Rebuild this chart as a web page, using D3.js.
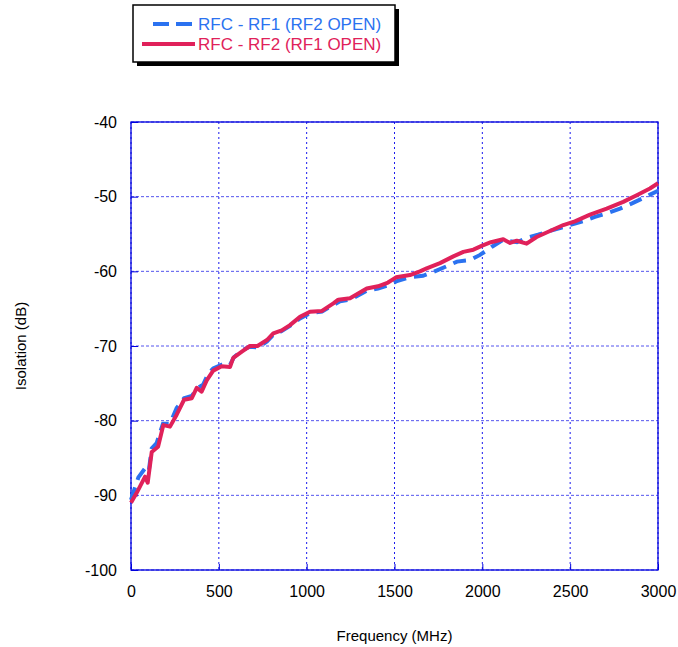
<!DOCTYPE html>
<html lang="en">
<head>
<meta charset="UTF-8">
<title>Isolation vs Frequency</title>
<style>
  body { margin: 0; background: #fff; }
  svg { display: block; font-family: "Liberation Sans", Arial, sans-serif; }
</style>
</head>
<body>
<div id="chart"></div>
<script src="https://d3js.org/d3.v7.min.js"></script>
<script>
// RFC - RF1 (RF2 OPEN), dashed blue
const rf1Freq = [0, 42, 89, 102, 118, 146, 182, 222, 260, 302, 346, 381, 410, 440, 468, 516, 564, 586, 638, 677, 723, 774, 810, 858, 905, 962, 1019, 1087, 1152, 1190, 1247, 1342, 1406, 1474, 1514, 1588, 1662, 1719, 1799, 1856, 1930, 1987, 2055, 2118, 2197, 2254, 2317, 2368, 2442, 2527, 2584, 2641, 2715, 2784, 2852, 2915, 3000];
const rf1Iso = [-90.6, -87.6, -86.1, -86.6, -83.7, -83.0, -80.4, -80.4, -78.3, -77.0, -76.7, -75.6, -75.2, -73.7, -73.0, -72.5, -72.5, -71.5, -70.5, -70.1, -70.2, -69.4, -68.5, -68.0, -67.3, -66.3, -65.6, -65.4, -64.5, -64.0, -63.8, -62.6, -62.3, -61.8, -61.3, -60.8, -60.6, -60.1, -59.3, -58.7, -58.5, -57.8, -56.7, -55.8, -56.1, -55.5, -55.1, -54.7, -54.2, -53.6, -53.2, -52.7, -52.2, -51.6, -50.9, -50.2, -49.2];

// RFC - RF2 (RF1 OPEN), solid red
const rf2Freq = [0, 34, 80, 95, 118, 154, 184, 222, 260, 302, 346, 374, 402, 431, 468, 516, 564, 582, 635, 677, 720, 774, 810, 858, 905, 962, 1019, 1087, 1152, 1180, 1247, 1342, 1406, 1463, 1509, 1588, 1645, 1683, 1759, 1835, 1892, 1949, 1996, 2049, 2119, 2158, 2196, 2252, 2309, 2385, 2461, 2527, 2613, 2708, 2802, 2879, 2954, 3000];
const rf2Iso = [-91.0, -89.6, -87.5, -88.3, -84.2, -83.5, -80.6, -80.8, -79.2, -77.2, -77.0, -75.6, -76.1, -74.6, -73.3, -72.7, -72.8, -71.6, -70.7, -70.0, -70.0, -69.2, -68.3, -67.9, -67.2, -66.1, -65.4, -65.3, -64.3, -63.8, -63.6, -62.3, -62.0, -61.5, -60.8, -60.5, -60.0, -59.6, -58.9, -58.0, -57.4, -57.1, -56.6, -56.1, -55.7, -56.2, -55.9, -56.3, -55.4, -54.6, -53.8, -53.3, -52.4, -51.6, -50.7, -49.8, -48.9, -48.2];

const xTicks = [0, 500, 1000, 1500, 2000, 2500, 3000];
const yTicks = [-100, -90, -80, -70, -60, -50, -40];

const seriesNames = ["RFC - RF1 (RF2 OPEN)", "RFC - RF2 (RF1 OPEN)"];
const seriesColors = ["#2b72f0", "#e0215a"];

const width = 678, height = 647;
const margin = { top: 122, right: 20, bottom: 77, left: 131 };

const svg = d3.select("#chart").append("svg")
  .attr("width", width)
  .attr("height", height);

const x = d3.scaleLinear().domain([0, 3000]).range([margin.left, 658]);
const y = d3.scaleLinear().domain([-100, -40]).range([570, margin.top]);

// grid
svg.append("g")
  .selectAll("line")
  .data(xTicks)
  .join("line")
  .attr("x1", d => x(d)).attr("x2", d => x(d))
  .attr("y1", y(-40)).attr("y2", y(-100))
  .attr("stroke", "#1a1aee")
  .attr("stroke-width", 1)
  .attr("stroke-dasharray", "2,3");

svg.append("g")
  .selectAll("line")
  .data(yTicks)
  .join("line")
  .attr("x1", x(0)).attr("x2", x(3000))
  .attr("y1", d => y(d)).attr("y2", d => y(d))
  .attr("stroke", "#5555ee")
  .attr("stroke-width", 1)
  .attr("stroke-dasharray", "3,2");

// frame
svg.append("rect")
  .attr("x", x(0)).attr("y", y(-40))
  .attr("width", x(3000) - x(0))
  .attr("height", y(-100) - y(-40))
  .attr("fill", "none")
  .attr("stroke", "#0000dd")
  .attr("stroke-width", 1.3);

// axes (ticks point inward)
svg.append("g")
  .attr("transform", `translate(0,${y(-100)})`)
  .call(d3.axisBottom(x).tickValues(xTicks).tickSize(-6).tickPadding(16).tickFormat(d => String(d)))
  .call(g => g.select(".domain").remove())
  .call(g => g.selectAll(".tick line").attr("stroke", "#0000dd"))
  .call(g => g.selectAll(".tick text").attr("font-size", 16).attr("fill", "#000")
    .attr("font-family", "Liberation Sans, Arial, sans-serif"));

svg.append("g")
  .attr("transform", `translate(${x(0)},0)`)
  .call(d3.axisLeft(y).tickValues(yTicks).tickSize(-7).tickPadding(14).tickFormat(d => String(d)))
  .call(g => g.select(".domain").remove())
  .call(g => g.selectAll(".tick line").attr("stroke", "#0000dd"))
  .call(g => g.selectAll(".tick text").attr("font-size", 16).attr("fill", "#000")
    .attr("font-family", "Liberation Sans, Arial, sans-serif"));

// axis titles
svg.append("text")
  .attr("x", (x(0) + x(3000)) / 2)
  .attr("y", 641)
  .attr("text-anchor", "middle")
  .attr("font-size", 15)
  .text("Frequency (MHz)");

svg.append("text")
  .attr("transform", `translate(26,${(y(-40) + y(-100)) / 2}) rotate(-90)`)
  .attr("text-anchor", "middle")
  .attr("font-size", 15)
  .text("Isolation (dB)");

// curves
const line = d3.line()
  .x(d => x(d[0]))
  .y(d => y(d[1]));

const rf1 = rf1Freq.map((f, i) => [f, rf1Iso[i]]);
const rf2 = rf2Freq.map((f, i) => [f, rf2Iso[i]]);

svg.append("path")
  .datum(rf1)
  .attr("fill", "none")
  .attr("stroke", seriesColors[0])
  .attr("stroke-width", 4)
  .attr("stroke-dasharray", "13,8")
  .attr("d", line);

svg.append("path")
  .datum(rf2)
  .attr("fill", "none")
  .attr("stroke", seriesColors[1])
  .attr("stroke-width", 4)
  .attr("stroke-linejoin", "round")
  .attr("d", line);

// legend with drop shadow
const leg = svg.append("g");
leg.append("rect")
  .attr("x", 137).attr("y", 9)
  .attr("width", 262).attr("height", 57)
  .attr("fill", "#000");
leg.append("rect")
  .attr("x", 133).attr("y", 5)
  .attr("width", 262).attr("height", 57)
  .attr("fill", "#fff")
  .attr("stroke", "#000")
  .attr("stroke-width", 1.5);

leg.append("line")
  .attr("x1", 153).attr("x2", 193)
  .attr("y1", 24).attr("y2", 24)
  .attr("stroke", seriesColors[0])
  .attr("stroke-width", 4)
  .attr("stroke-dasharray", "16,7");
leg.append("line")
  .attr("x1", 142).attr("x2", 195)
  .attr("y1", 44).attr("y2", 44)
  .attr("stroke", seriesColors[1])
  .attr("stroke-width", 4);

leg.selectAll("text.lbl")
  .data(seriesNames)
  .join("text")
  .attr("class", "lbl")
  .attr("x", 198)
  .attr("y", (d, i) => 30 + i * 20)
  .attr("font-size", 17)
  .attr("fill", (d, i) => seriesColors[i])
  .text(d => d);
</script>
</body>
</html>
